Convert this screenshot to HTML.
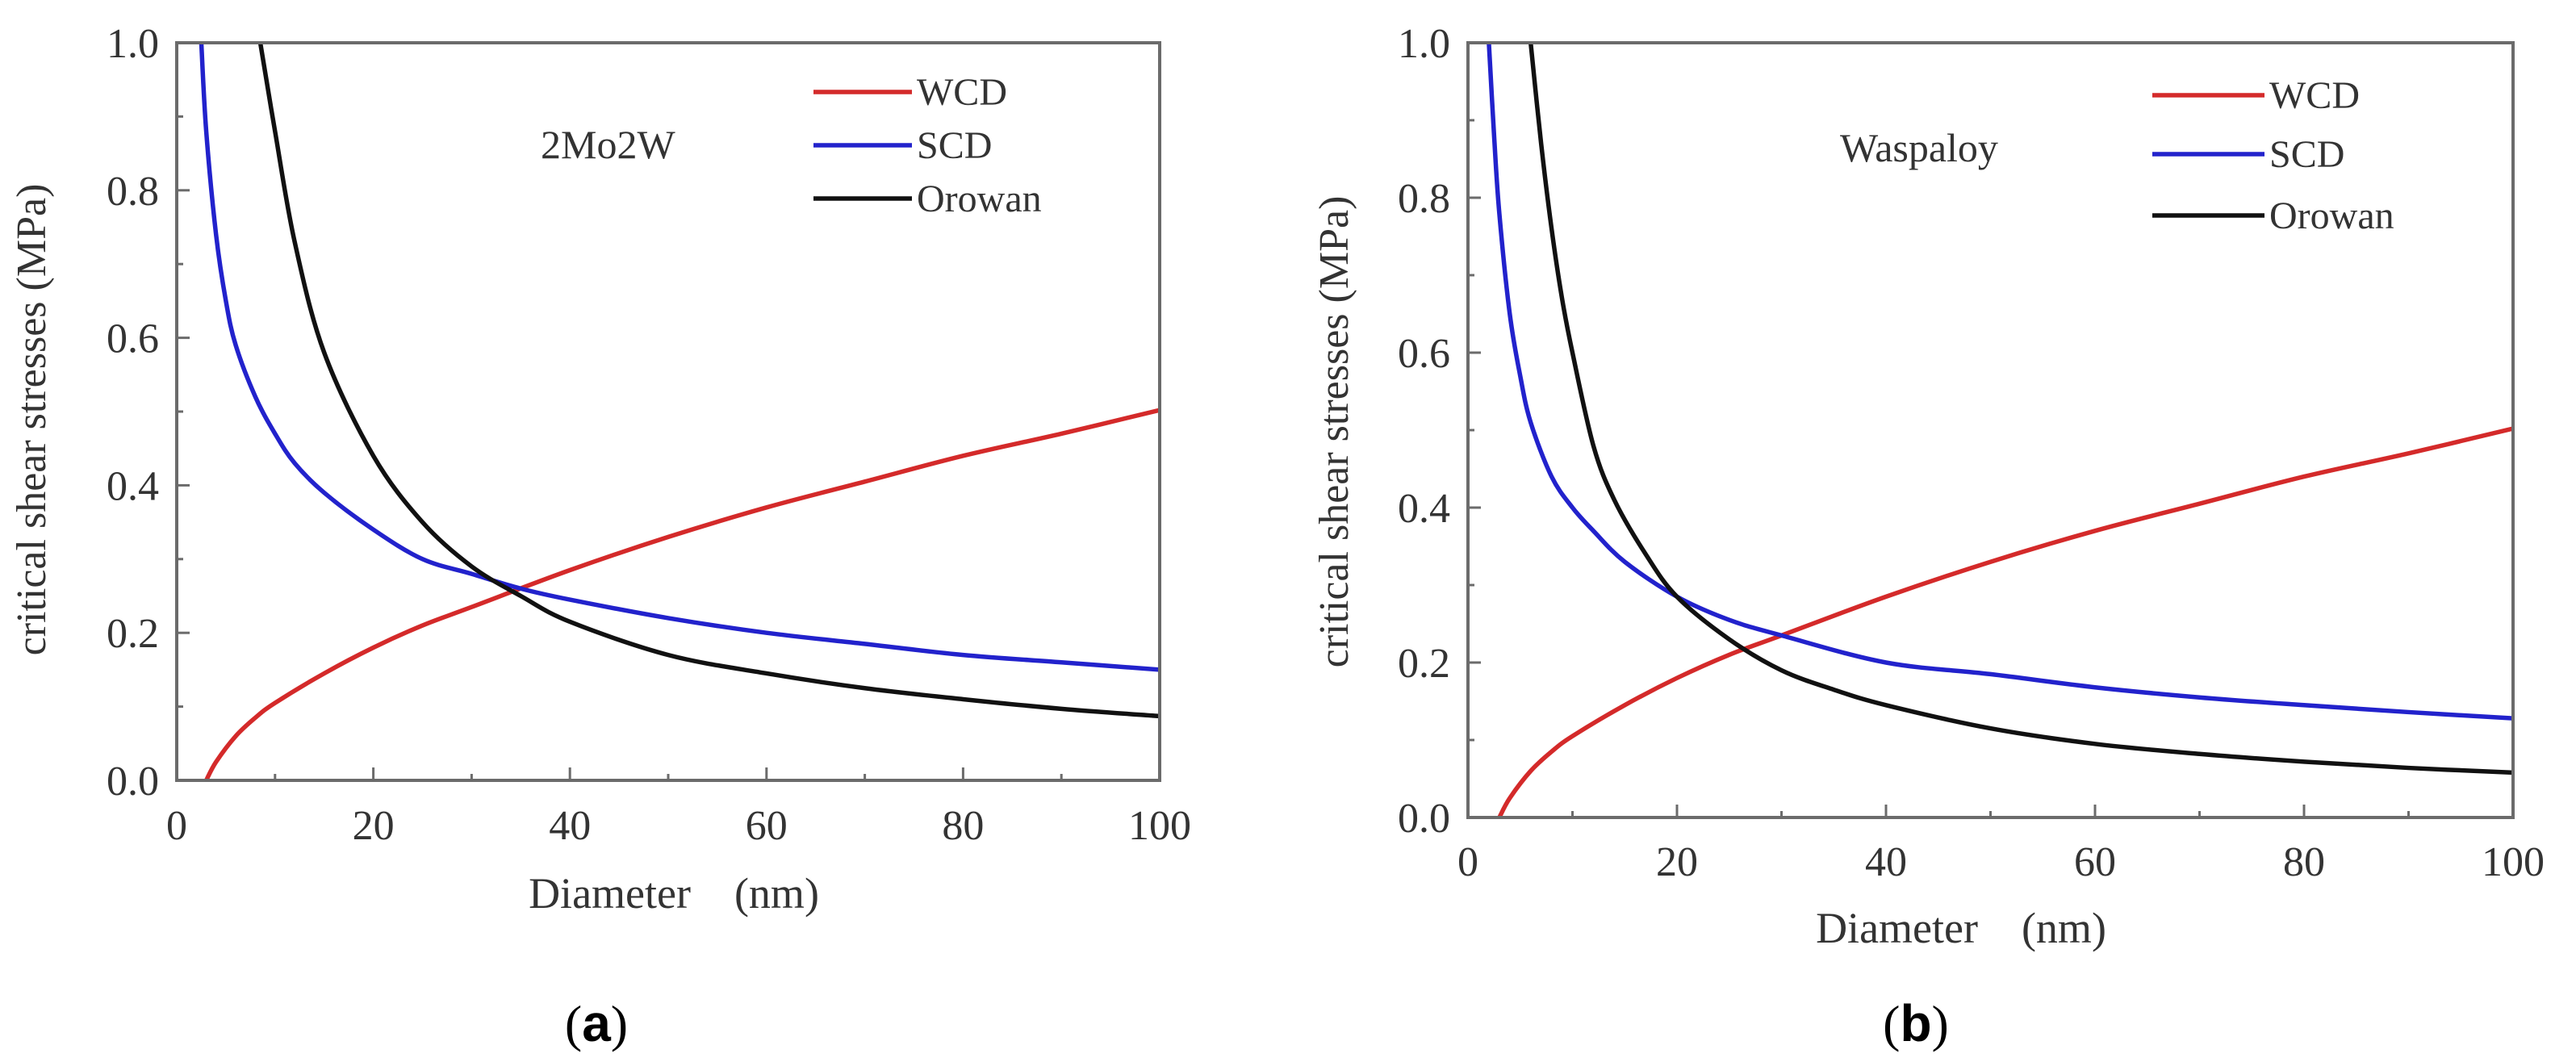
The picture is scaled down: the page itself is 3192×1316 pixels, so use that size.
<!DOCTYPE html>
<html><head><meta charset="utf-8">
<style>
html,body{margin:0;padding:0;background:#fff;}
svg{display:block;}
text{font-family:"Liberation Serif",serif;}
</style></head>
<body>
<svg id="fig" width="3192" height="1316" viewBox="0 0 3192 1316" xmlns="http://www.w3.org/2000/svg"></svg>
<script>
// ---- data: panel (a) 2Mo2W ----
const aWcdX = [3, 4, 6, 8, 10, 15, 20, 25, 30, 40, 50, 60, 70, 80, 90, 100];
const aWcdY = [0, 0.025, 0.06, 0.085, 0.105, 0.145, 0.18, 0.21, 0.235, 0.285, 0.33, 0.37, 0.405, 0.44, 0.47, 0.502];
const aScdX = [2.5, 3, 4, 5, 6, 8, 10, 12, 15, 20, 25, 30, 35, 40, 50, 60, 70, 80, 90, 100];
const aScdY = [1.0, 0.88, 0.74, 0.65, 0.59, 0.52, 0.47, 0.43, 0.39, 0.34, 0.30, 0.28, 0.26, 0.245, 0.22, 0.2, 0.185, 0.17, 0.16, 0.15];
const aOroX = [8.5, 10, 12, 15, 20, 25, 30, 35, 40, 50, 60, 70, 80, 90, 100];
const aOroY = [1.0, 0.88, 0.73, 0.58, 0.44, 0.35, 0.29, 0.25, 0.215, 0.17, 0.145, 0.125, 0.11, 0.097, 0.087];
// ---- data: panel (b) Waspaloy ----
const bWcdX = [3, 4, 6, 8, 10, 15, 20, 25, 30, 40, 50, 60, 70, 80, 90, 100];
const bWcdY = [0, 0.025, 0.06, 0.085, 0.105, 0.145, 0.18, 0.21, 0.235, 0.285, 0.33, 0.37, 0.405, 0.44, 0.47, 0.502];
const bScdX = [2, 2.5, 3, 4, 5, 6, 8, 10, 12, 15, 20, 25, 30, 40, 50, 60, 70, 80, 90, 100];
const bScdY = [1.0, 0.88, 0.78, 0.65, 0.57, 0.51, 0.44, 0.4, 0.37, 0.33, 0.285, 0.255, 0.235, 0.2, 0.185, 0.168, 0.155, 0.145, 0.136, 0.128];
const bOroX = [6, 7, 8, 9, 10, 12, 14, 17, 20, 25, 30, 35, 40, 50, 60, 70, 80, 90, 100];
const bOroY = [1.0, 0.87, 0.76, 0.67, 0.6, 0.48, 0.41, 0.34, 0.285, 0.23, 0.19, 0.165, 0.145, 0.115, 0.095, 0.082, 0.072, 0.064, 0.058];
// ---- ticks & labels ----
const xTicks = [0, 20, 40, 60, 80, 100];
const xMinor = [10, 30, 50, 70, 90];
const yTicks = [0.0, 0.2, 0.4, 0.6, 0.8, 1.0];
const yMinor = [0.1, 0.3, 0.5, 0.7, 0.9];
const seriesNames = ["WCD", "SCD", "Orowan"];

const NS = "http://www.w3.org/2000/svg";
const svg = document.getElementById("fig");
function mk(tag, attrs, parent, txt){
  const e = document.createElementNS(NS, tag);
  for (const k in attrs) e.setAttribute(k, attrs[k]);
  if (txt !== undefined) e.textContent = txt;
  parent.appendChild(e);
  return e;
}
function pathFrom(xs, ys, sx, sy){
  const p = xs.map((x,i)=>[sx(x), sy(ys[i])]);
  let d = "M"+p[0][0]+","+p[0][1];
  for (let i=0;i<p.length-1;i++){
    const p0=p[i-1]||p[i], p1=p[i], p2=p[i+1], p3=p[i+2]||p2;
    const c1=[p1[0]+(p2[0]-p0[0])/6, p1[1]+(p2[1]-p0[1])/6];
    const c2=[p2[0]-(p3[0]-p1[0])/6, p2[1]-(p3[1]-p1[1])/6];
    d+=" C"+c1[0]+","+c1[1]+" "+c2[0]+","+c2[1]+" "+p2[0]+","+p2[1];
  }
  return d;
}
function panel(cfg){
  const g = mk("g", {}, svg);
  
  
  const L=cfg.L, R=cfg.R, T=cfg.T, B=cfg.B;
  const sx = v => L + (v/100)*(R-L);
  const sy = v => B - v*(B-T);
  const clip = mk("clipPath", {id: cfg.id+"-clip"}, g);
  mk("rect", {x:L, y:T, width:R-L, height:B-T}, clip);
  const colors = ["#d42a2a", "#2222cc", "#111"];
  cfg.series.forEach((s,i)=>{
    const p = mk("path", {d: pathFrom(s[0], s[1], sx, sy), fill:"none", stroke:colors[i], "stroke-width":5.5, "stroke-linejoin":"round", "clip-path":"url(#"+cfg.id+"-clip)"}, g);
    
    
  });
  const fr = mk("rect", {x:L, y:T, width:R-L, height:B-T, fill:"none", stroke:"#6b6b6b", "stroke-width":4}, g);
  
  
  xTicks.forEach(v=>{
    const t = mk("line", {x1:sx(v), x2:sx(v), y1:B, y2:B-16, stroke:"#6b6b6b", "stroke-width":3}, g);
    
    
    const lb = mk("text", {x:sx(v), y:cfg.xLabY, "font-size":52, "text-anchor":"middle", fill:"#333"}, g, String(v));
    
    
  });
  xMinor.forEach(v=>{
    const t = mk("line", {x1:sx(v), x2:sx(v), y1:B, y2:B-8, stroke:"#6b6b6b", "stroke-width":3}, g);
    
    
  });
  yTicks.forEach(v=>{
    const t = mk("line", {x1:L, x2:L+16, y1:sy(v), y2:sy(v), stroke:"#6b6b6b", "stroke-width":3}, g);
    
    
    const lb = mk("text", {x:L-22, y:sy(v)+18, "font-size":52, "text-anchor":"end", fill:"#333"}, g, v.toFixed(1));
    
    
  });
  yMinor.forEach(v=>{
    const t = mk("line", {x1:L, x2:L+8, y1:sy(v), y2:sy(v), stroke:"#6b6b6b", "stroke-width":3}, g);
    
    
  });
  const xt = mk("text", {x:cfg.xTitleX, y:cfg.xTitleY, "font-size":54, "text-anchor":"middle", fill:"#333"}, g, "Diameter\u2003(nm)");
  
  
  const yt = mk("text", {x:0, y:0, "font-size":52, "text-anchor":"middle", fill:"#333", transform:"translate("+cfg.yTitleX+","+cfg.yTitleY+") rotate(-90)"}, g, "critical shear stresses (MPa)");
  
  
  seriesNames.forEach((n,i)=>{
    const y = cfg.legY[i];
    const ln = mk("line", {x1:cfg.legX1, x2:cfg.legX2, y1:y, y2:y, stroke:colors[i], "stroke-width":5.5}, g);
    
    
    const tx = mk("text", {x:cfg.legX2+6, y:y+16, "font-size":48, fill:"#333"}, g, n);
    
    
  });
  const an = mk("text", {x:cfg.annX, y:cfg.annY, "font-size":50, fill:"#333"}, g, cfg.ann);
  
  
  const pl = mk("text", {x:cfg.letterX, y:1290, "font-size":64, "text-anchor":"middle", fill:"#000"}, g);
  
  
  mk("tspan", {}, pl, "(");
  mk("tspan", {"font-weight":"bold", "font-family":"Liberation Sans, sans-serif"}, pl, cfg.letter);
  mk("tspan", {}, pl, ")");
}
panel({id:"panel-a", L:219, R:1437, T:53, B:967, xLabY:1040, xTitleX:835, xTitleY:1125, yTitleX:56, yTitleY:520,
  legX1:1008, legX2:1130, legY:[114,180,246], ann:"2Mo2W", annX:670, annY:196, letter:"a", letterX:739,
  series:[[aWcdX,aWcdY],[aScdX,aScdY],[aOroX,aOroY]]});
panel({id:"panel-b", L:1819, R:3114, T:53, B:1013, xLabY:1085, xTitleX:2430, xTitleY:1168, yTitleX:1670, yTitleY:535,
  legX1:2667, legX2:2806, legY:[118,191,267], ann:"Waspaloy", annX:2280, annY:200, letter:"b", letterX:2374,
  series:[[bWcdX,bWcdY],[bScdX,bScdY],[bOroX,bOroY]]});
</script>
</body></html>
